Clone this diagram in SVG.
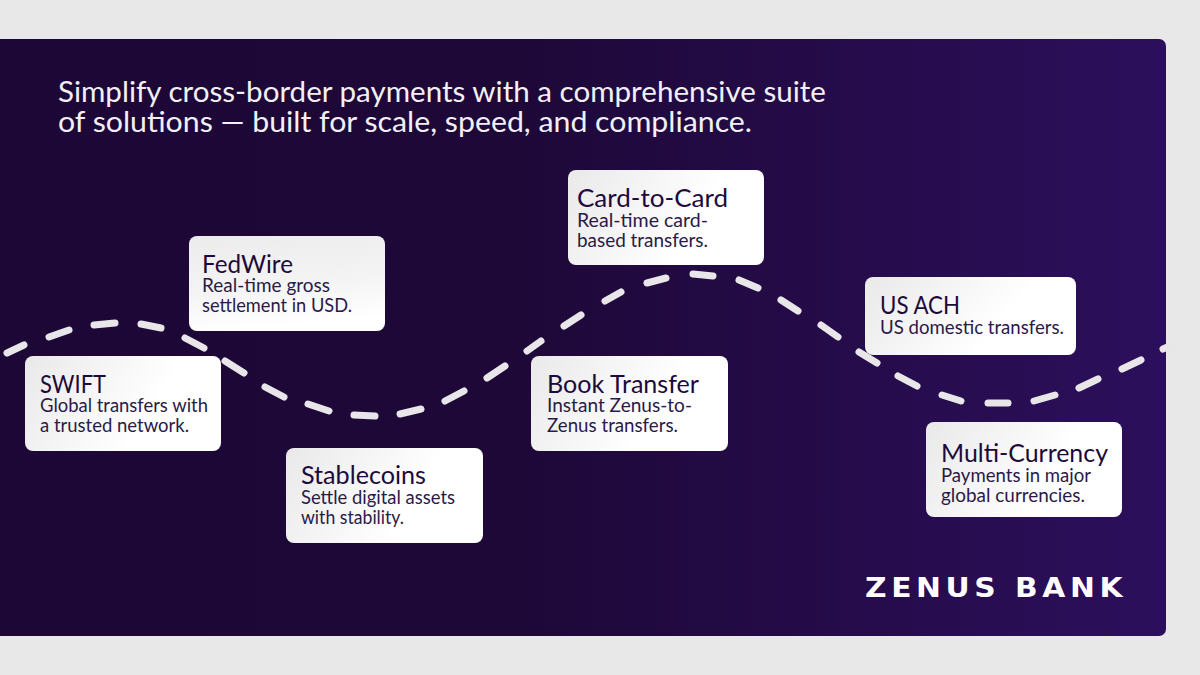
<svg xmlns="http://www.w3.org/2000/svg" width="1200" height="675" viewBox="0 0 1200 675">
<style>
.card{fill:url(#cardH)}
.t{font-family:"Lato","Liberation Sans",sans-serif;fill:#1d0a3a;font-size:25px;font-weight:400}
.s{font-family:"Lato","Liberation Sans",sans-serif;fill:#2a1a48;font-size:19.5px}
.h{font-family:"Lato","Liberation Sans",sans-serif;fill:#f2f0f6;font-size:28.5px}
.logo{font-family:"DejaVu Sans",sans-serif;font-weight:700;fill:#fff;font-size:26px;letter-spacing:4px}
.dash{fill:none;stroke:#e8e6e8;stroke-width:7;stroke-linecap:round}
</style>
<defs>
<linearGradient id="panel" x1="0" y1="0" x2="1" y2="0"><stop offset="0" stop-color="#1c0736"/><stop offset="0.45" stop-color="#1e0838"/><stop offset="1" stop-color="#2c0f5c"/></linearGradient>
<linearGradient id="cardH" x1="0" y1="0" x2="1" y2="0.3"><stop offset="0" stop-color="#e9e9e9"/><stop offset="0.75" stop-color="#ffffff"/><stop offset="1" stop-color="#ffffff"/></linearGradient>
<linearGradient id="cardV" x1="0" y1="0" x2="0.2" y2="1"><stop offset="0" stop-color="#ececec"/><stop offset="0.6" stop-color="#f4f4f4"/><stop offset="1" stop-color="#ffffff"/></linearGradient>
</defs>
<rect width="1200" height="675" fill="#e8e8e8"/>
<path d="M-10 39H1159a7 7 0 0 1 7 7V629a7 7 0 0 1-7 7H-10Z" fill="url(#panel)"/>
<g id="heading">
<text class="h" x="58" y="102" textLength="768" lengthAdjust="spacingAndGlyphs">Simplify cross-border payments with a comprehensive suite</text>
<text class="h" x="58" y="132" textLength="694" lengthAdjust="spacingAndGlyphs">of solutions — built for scale, speed, and compliance.</text>
</g>
<g id="swift"><rect class="card" x="25" y="356" width="196" height="95" rx="8"/>
<text class="t" x="40" y="393" textLength="66" lengthAdjust="spacingAndGlyphs">SWIFT</text>
<text class="s" x="40" y="412" textLength="168" lengthAdjust="spacingAndGlyphs">Global transfers with</text>
<text class="s" x="40" y="432" textLength="149" lengthAdjust="spacingAndGlyphs">a trusted network.</text></g>
<g id="fedwire"><rect x="189" y="236" width="196" height="95" rx="8" fill="url(#cardV)"/>
<text class="t" x="202" y="273" textLength="91" lengthAdjust="spacingAndGlyphs">FedWire</text>
<text class="s" x="202" y="292" textLength="128" lengthAdjust="spacingAndGlyphs">Real-time gross</text>
<text class="s" x="202" y="312" textLength="150" lengthAdjust="spacingAndGlyphs">settlement in USD.</text></g>
<g id="stablecoins"><rect class="card" x="286" y="448" width="197" height="95" rx="8"/>
<text class="t" x="301" y="484" textLength="125" lengthAdjust="spacingAndGlyphs">Stablecoins</text>
<text class="s" x="301" y="504" textLength="154" lengthAdjust="spacingAndGlyphs">Settle digital assets</text>
<text class="s" x="301" y="524" textLength="103" lengthAdjust="spacingAndGlyphs">with stability.</text></g>
<g id="card-to-card"><rect class="card" x="568" y="170" width="196" height="95" rx="8"/>
<text class="t" x="577" y="207" textLength="151" lengthAdjust="spacingAndGlyphs">Card-to-Card</text>
<text class="s" x="577" y="227" textLength="131" lengthAdjust="spacingAndGlyphs">Real-time card-</text>
<text class="s" x="577" y="247" textLength="131" lengthAdjust="spacingAndGlyphs">based transfers.</text></g>
<g id="book-transfer"><rect class="card" x="531" y="356" width="197" height="95" rx="8"/>
<text class="t" x="547" y="393" textLength="152" lengthAdjust="spacingAndGlyphs">Book Transfer</text>
<text class="s" x="547" y="412" textLength="145" lengthAdjust="spacingAndGlyphs">Instant Zenus-to-</text>
<text class="s" x="547" y="432" textLength="131" lengthAdjust="spacingAndGlyphs">Zenus transfers.</text></g>
<g id="us-ach"><rect class="card" x="865" y="277" width="211" height="78" rx="8"/>
<text class="t" x="880" y="314" textLength="80" lengthAdjust="spacingAndGlyphs">US ACH</text>
<text class="s" x="880" y="334" textLength="184" lengthAdjust="spacingAndGlyphs">US domestic transfers.</text></g>
<g id="multi-currency"><rect class="card" x="926" y="422" width="196" height="95" rx="8"/>
<text class="t" x="941" y="462" textLength="167" lengthAdjust="spacingAndGlyphs">Multi-Currency</text>
<text class="s" x="941" y="482" textLength="150" lengthAdjust="spacingAndGlyphs">Payments in major</text>
<text class="s" x="941" y="502" textLength="144" lengthAdjust="spacingAndGlyphs">global currencies.</text></g>
<g id="connectors">
<path class="dash" d="M7 353L24 345M49 337L69 330M94 325L115 323M141 324L161 328M185 338L204 348M225 361L244 373M265 387L284 397M308 404L329 411M354 415L375 416M400 414L421 409M445 401L464 391M487 378L505 366M527 351L541 341M564 326L581 315M605 301L621 292M647 283L666 278M693 274L713 276M739 280L758 288M781 300L798 311M821 325L838 337M859 352L877 363M898 376L917 386M942 395L961 401M988 403L1008 403M1034 401L1055 395M1079 388L1098 379M1122 369L1141 360M1163 349L1172 345"/>
</g>
<g id="logo">
<text class="logo" x="865" y="597" textLength="262" lengthAdjust="spacingAndGlyphs">ZENUS BANK</text>
</g>
</svg>
